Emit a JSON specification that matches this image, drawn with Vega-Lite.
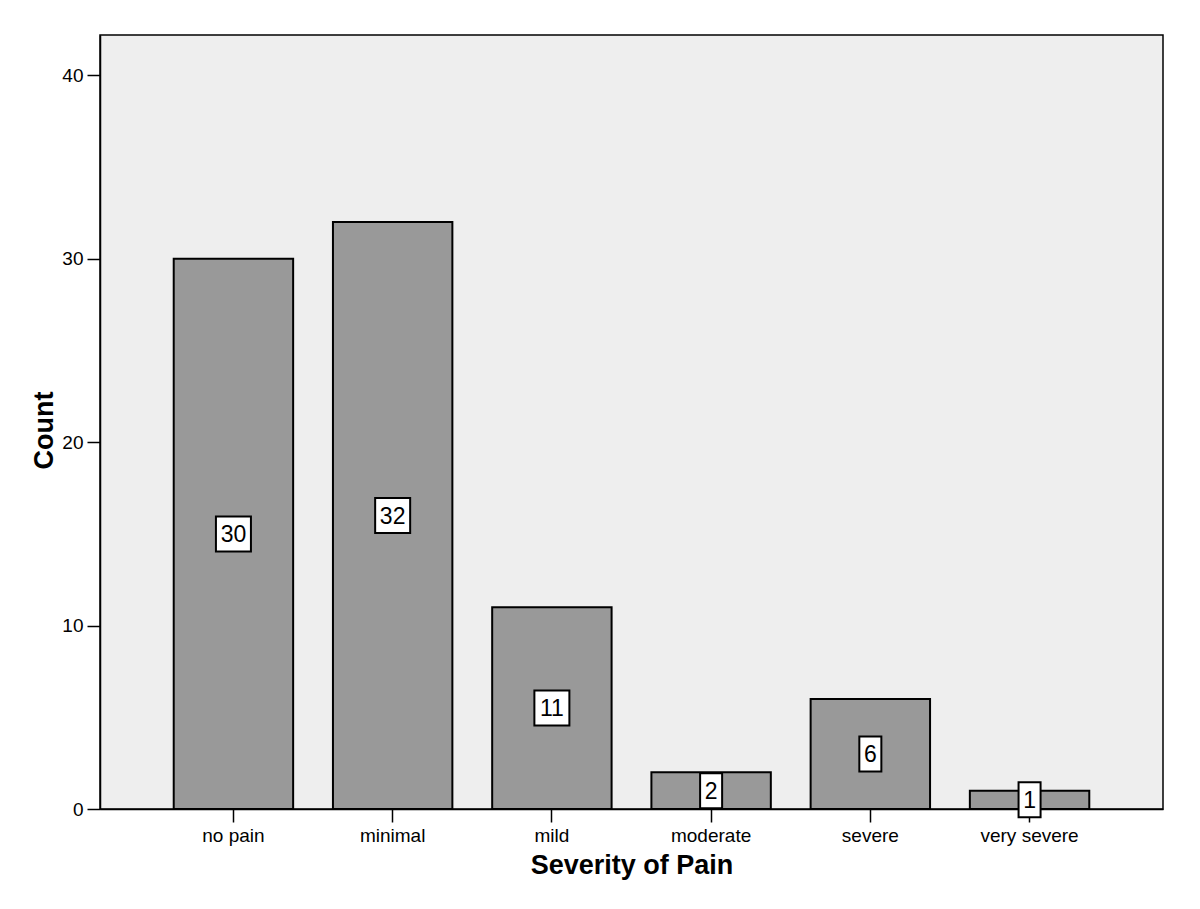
{
  "$schema": "https://vega.github.io/schema/vega-lite/v6.json",
  "width": 1063,
  "height": 774,
  "autosize": "none",
  "padding": {"left": 100, "top": 35, "right": 37, "bottom": 100},
  "background": "white",
  "data": {
    "values": [
      {"severity": "no pain", "count": 30},
      {"severity": "minimal", "count": 32},
      {"severity": "mild", "count": 11},
      {"severity": "moderate", "count": 2},
      {"severity": "severe", "count": 6},
      {"severity": "very severe", "count": 1}
    ]
  },
  "config": {
    "font": "Liberation Sans",
    "view": {"stroke": "#000000", "strokeWidth": 1.5, "fill": "#eeeeee"},
    "axis": {
      "domainColor": "#000000",
      "domainWidth": 1.5,
      "tickColor": "#000000",
      "tickWidth": 1.5,
      "tickSize": 13,
      "labelColor": "#000000",
      "labelFont": "Liberation Sans",
      "labelFontSize": 19,
      "labelPadding": 4,
      "titleColor": "#000000",
      "titleFont": "Liberation Sans",
      "titleFontSize": 27,
      "titleFontWeight": "bold",
      "grid": false
    }
  },
  "encoding": {
    "x": {
      "field": "severity",
      "type": "nominal",
      "sort": null,
      "scale": {"paddingInner": 0.25, "paddingOuter": 0.463},
      "axis": {"title": "Severity of Pain", "labelAngle": 0, "titlePadding": 7}
    }
  },
  "layer": [
    {
      "mark": {"type": "bar", "fill": "#999999", "stroke": "#000000", "strokeWidth": 2},
      "encoding": {
        "y": {
          "field": "count",
          "type": "quantitative",
          "scale": {"domain": [0, 42.2], "nice": false, "zero": true},
          "axis": {
            "title": "Count",
            "values": [0, 10, 20, 30, 40],
            "titleAngle": -90,
            "titleX": -48,
            "titleY": 395,
            "titleAlign": "center",
            "titleBaseline": "alphabetic"
          }
        }
      }
    },
    {
      "transform": [{"filter": "datum.count >= 10"}],
      "mark": {"type": "point", "shape": "square", "size": 1225, "filled": true, "fill": "#ffffff", "stroke": "#000000", "strokeWidth": 2, "opacity": 1},
      "encoding": {
        "y": {"field": "count", "type": "quantitative", "scale": {"domain": [0, 84.4], "nice": false}, "axis": null}
      }
    },
    {
      "transform": [{"filter": "datum.count < 10"}],
      "mark": {"type": "point", "shape": "M -0.629 -1 L 0.629 -1 L 0.629 1 L -0.629 1 Z", "size": 1225, "filled": true, "fill": "#ffffff", "stroke": "#000000", "strokeWidth": 2, "opacity": 1},
      "encoding": {
        "y": {"field": "count", "type": "quantitative", "scale": {"domain": [0, 84.4], "nice": false}, "axis": null}
      }
    },
    {
      "mark": {"type": "text", "fontSize": 23, "font": "Liberation Sans", "color": "#000000", "baseline": "middle", "align": "center", "dy": 1},
      "encoding": {
        "y": {"field": "count", "type": "quantitative", "scale": {"domain": [0, 84.4], "nice": false}, "axis": null},
        "text": {"field": "count", "type": "quantitative"}
      }
    }
  ],
  "resolve": {"scale": {"y": "independent"}}
}
